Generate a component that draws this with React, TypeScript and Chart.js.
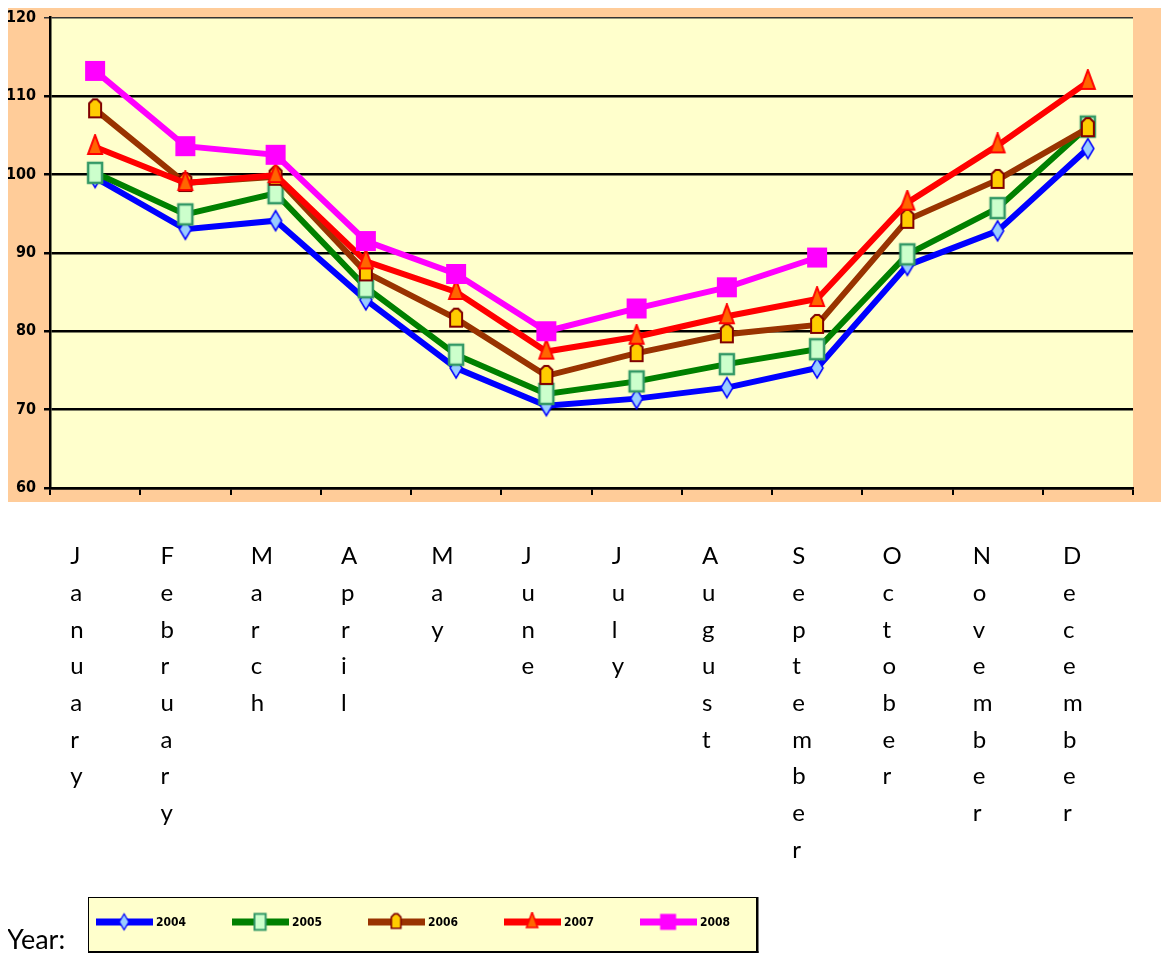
import React, { useEffect, useRef } from "react";
import { Chart, registerables } from "chart.js";

Chart.register(...registerables);

const months = [
  "January", "February", "March", "April", "May", "June",
  "July", "August", "September", "October", "November", "December",
];
const years = ["2004", "2005", "2006", "2007", "2008"];

const values2004 = [99.6, 93.0, 94.1, 84.0, 75.3, 70.5, 71.4, 72.8, 75.3, 88.4, 92.8, 103.3];
const values2005 = [100.2, 94.9, 97.6, 85.6, 77.0, 72.0, 73.6, 75.8, 77.7, 89.8, 95.7, 106.1];
const values2006 = [108.3, 98.9, 99.7, 87.5, 81.6, 74.3, 77.2, 79.6, 80.8, 94.2, 99.3, 105.9];
const values2007 = [103.5, 98.9, 99.9, 88.9, 85.0, 77.4, 79.3, 81.9, 84.1, 96.4, 103.7, 111.8];
const values2008 = [113.2, 103.6, 102.5, 91.5, 87.3, 80.0, 82.9, 85.6, 89.4, null, null, null];

const yMin = 60;
const yMax = 120;
const yStep = 10;

const lineColors = ["#0000FF", "#008000", "#993300", "#FF0000", "#FF00FF"];
const markerKinds = ["diamond", "square", "cylinder", "triangle", "block"];

function makeMarker(kind: string, scale = 1): HTMLCanvasElement {
  const c = document.createElement("canvas");
  c.width = Math.round(24 * scale);
  c.height = Math.round(26 * scale);
  const g = c.getContext("2d")!;
  g.scale(scale, scale);
  const cx = 12;
  const cy = 13;
  g.lineJoin = "miter";
  if (kind === "diamond") {
    g.beginPath();
    g.moveTo(cx, cy - 10);
    g.lineTo(cx + 6, cy);
    g.lineTo(cx, cy + 10);
    g.lineTo(cx - 6, cy);
    g.closePath();
    g.fillStyle = "#99CCFF";
    g.fill();
    g.strokeStyle = "#0000FF";
    g.lineWidth = 1.5;
    g.stroke();
  } else if (kind === "square") {
    g.fillStyle = "#CCFFCC";
    g.fillRect(cx - 7, cy - 10, 14, 20);
    g.strokeStyle = "#339966";
    g.lineWidth = 2.5;
    g.strokeRect(cx - 7, cy - 10, 14, 20);
  } else if (kind === "cylinder") {
    g.beginPath();
    g.moveTo(cx - 6, cy - 6);
    g.lineTo(cx - 2, cy - 10);
    g.lineTo(cx + 2, cy - 10);
    g.lineTo(cx + 6, cy - 6);
    g.lineTo(cx + 6, cy + 8);
    g.lineTo(cx - 6, cy + 8);
    g.closePath();
    g.fillStyle = "#FFCC00";
    g.fill();
    g.strokeStyle = "#800000";
    g.lineWidth = 2;
    g.stroke();
  } else if (kind === "triangle") {
    g.beginPath();
    g.moveTo(cx, cy - 12);
    g.lineTo(cx + 7, cy + 7);
    g.lineTo(cx - 7, cy + 7);
    g.closePath();
    g.fillStyle = "#FF6600";
    g.fill();
    g.strokeStyle = "#FF0000";
    g.lineWidth = 2;
    g.stroke();
  } else {
    g.fillStyle = "#FF00FF";
    g.fillRect(cx - 10, cy - 10, 20, 20);
  }
  return c;
}

const backgroundPlugin = {
  id: "bgPanels",
  beforeDraw(chart: any) {
    const { ctx, chartArea } = chart;
    ctx.save();
    ctx.fillStyle = "#FFCC99";
    ctx.fillRect(8, 8, chart.width - 8, 494);
    ctx.fillStyle = "#FFFFCC";
    ctx.fillRect(chartArea.left, chartArea.top, chartArea.right - chartArea.left, chartArea.bottom - chartArea.top);
    ctx.restore();
  },
};

const legendPlugin = {
  id: "yearLegend",
  afterDraw(chart: any) {
    const ctx = chart.ctx;
    ctx.save();
    ctx.fillStyle = "#000";
    ctx.font = "27px Lato, 'Open Sans', sans-serif";
    ctx.textBaseline = "alphabetic";
    ctx.textAlign = "left";
    ctx.fillText("Year:", 7, 949);

    const bx = 88;
    const by = 897;
    const bw = 668;
    const bh = 54;
    ctx.fillStyle = "#FFFFCC";
    ctx.fillRect(bx, by, bw, bh);
    ctx.strokeStyle = "#000";
    ctx.lineWidth = 1;
    ctx.strokeRect(bx + 0.5, by + 0.5, bw, bh);
    ctx.fillStyle = "#000";
    ctx.fillRect(bx + bw, by, 2.5, bh + 2);
    ctx.fillRect(bx, by + bh, bw + 2.5, 2.5);

    const items = chart.data.datasets;
    items.forEach((ds: any, i: number) => {
      const x0 = 96 + i * 136;
      const y = 922;
      ctx.strokeStyle = ds.borderColor;
      ctx.lineWidth = 7;
      ctx.beginPath();
      ctx.moveTo(x0, y);
      ctx.lineTo(x0 + 57, y);
      ctx.stroke();
      const img = ds.legendMarker as HTMLCanvasElement;
      ctx.drawImage(img, x0 + 28 - img.width / 2, y - img.height / 2);
      ctx.fillStyle = "#000";
      ctx.font = "bold 12px 'DejaVu Sans Condensed', 'Liberation Sans Narrow', sans-serif";
      ctx.textBaseline = "middle";
      ctx.fillText(ds.label, x0 + 60, y + 1);
    });
    ctx.restore();
  },
};

export default function App() {
  const canvasRef = useRef<HTMLCanvasElement | null>(null);

  useEffect(() => {
    if (!canvasRef.current) return;
    const series = [values2004, values2005, values2006, values2007, values2008];
    const datasets = years.map((label, i) => ({
      label,
      data: series[i],
      borderColor: lineColors[i],
      backgroundColor: lineColors[i],
      borderWidth: 6,
      pointStyle: makeMarker(markerKinds[i]),
      legendMarker: makeMarker(markerKinds[i], 0.8),
      pointRadius: 8,
      tension: 0,
      spanGaps: false,
      order: years.length - i,
    }));

    const chart = new Chart(canvasRef.current, {
      type: "line",
      data: {
        labels: months.map((m) => m.split("")),
        datasets: datasets as any,
      },
      options: {
        responsive: false,
        animation: false,
        devicePixelRatio: 1,
        layout: { padding: { left: 8, right: 36, top: 13, bottom: 0 } },
        plugins: {
          legend: { display: false },
          tooltip: { enabled: false },
        },
        scales: {
          x: {
            type: "category",
            offset: true,
            grid: {
              offset: true,
              drawOnChartArea: false,
              drawTicks: true,
              tickLength: 7,
              color: "#000",
              lineWidth: 2,
            },
            border: { color: "#000", width: 2.5 },
            ticks: {
              autoSkip: false,
              maxRotation: 0,
              minRotation: 0,
              align: "start",
              labelOffset: -25,
              padding: 43,
              color: "#000",
              font: { family: "Lato, 'Open Sans', sans-serif", size: 24, lineHeight: 1.53 },
            },
            afterFit: (s: any) => {
              s.height = 465;
            },
          },
          y: {
            min: yMin,
            max: yMax,
            ticks: {
              stepSize: yStep,
              padding: 8,
              color: "#000",
              font: {
                family: "'DejaVu Sans Condensed', 'Liberation Sans Narrow', sans-serif",
                size: 16,
                weight: "bold",
              },
            },
            grid: {
              color: (c: any) => (c.tick && c.tick.value === yMax ? "#333" : "#000"),
              lineWidth: (c: any) => (c.tick && c.tick.value === yMax ? 1.5 : 2.5),
              tickLength: 6,
            },
            border: { color: "#000", width: 2.5 },
            afterFit: (s: any) => {
              s.width = 42;
            },
          },
        },
      } as any,
      plugins: [backgroundPlugin, legendPlugin],
    });
    return () => chart.destroy();
  }, []);

  return (
    <div style={{ position: "relative", width: 1153, height: 945 }}>
      <canvas
        ref={canvasRef}
        width={1169}
        height={953}
        style={{ position: "absolute", left: -8, top: -8, width: 1169, height: 953 }}
      />
    </div>
  );
}
